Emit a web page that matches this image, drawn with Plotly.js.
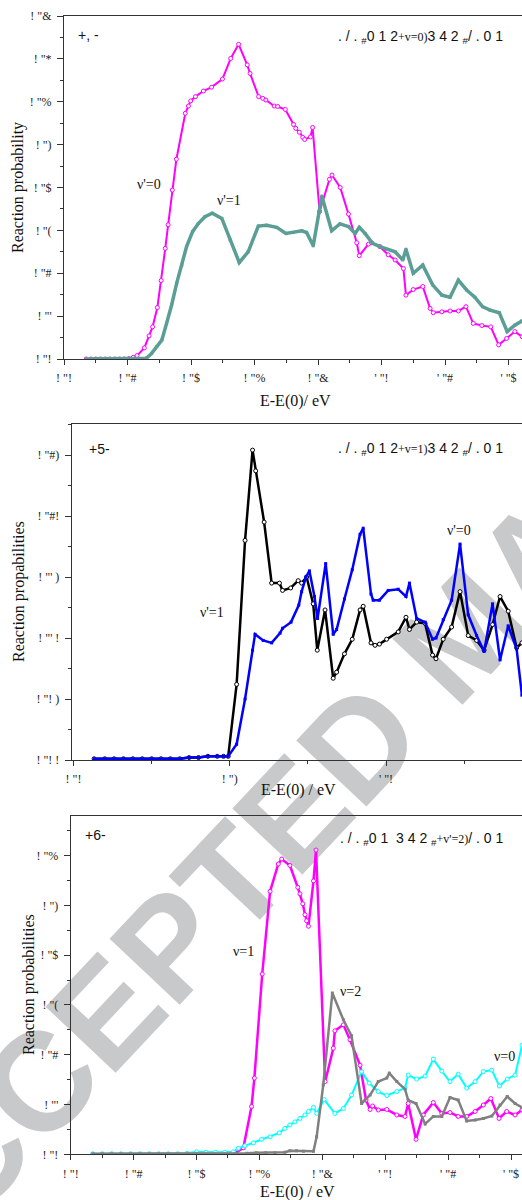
<!DOCTYPE html>
<html>
<head>
<meta charset="utf-8">
<script src="https://cdn.plot.ly/plotly-3.0.1.min.js"></script>
<style>html,body{margin:0;padding:0;background:#fff;}#plot{width:522px;height:1200px;}</style>
</head>
<body>
<div id="plot"></div>
<script>
// ---------- Panel 1 data ----------
const p1_v0_x = [0.07,0.085,0.10,0.115,0.13,0.145,0.16,0.175,0.19,0.205,0.218,0.23,0.253,0.268,0.279,0.294,0.306,0.319,0.328,0.341,0.354,0.382,0.392,0.399,0.414,0.439,0.465,0.499,0.525,0.550,0.577,0.586,0.613,0.626,0.636,0.662,0.673,0.697,0.723,0.730,0.741,0.752,0.758,0.776,0.783,0.805,0.836,0.844,0.870,0.896,0.922,0.930,0.959,0.969,0.995,1.021,1.043,1.069,1.077,1.100,1.130,1.153,1.163,1.190,1.216,1.242,1.266,1.289,1.316,1.344,1.369,1.394,1.420,1.443];
const p1_v0_y = [0,0,0,0,0,0,0,0,0,0.001,0.004,0.008,0.026,0.054,0.075,0.12,0.183,0.258,0.313,0.394,0.466,0.573,0.59,0.602,0.612,0.625,0.634,0.653,0.701,0.734,0.686,0.666,0.612,0.608,0.604,0.59,0.589,0.582,0.547,0.538,0.529,0.517,0.512,0.518,0.54,0.344,0.419,0.429,0.40,0.338,0.271,0.241,0.268,0.271,0.262,0.243,0.231,0.211,0.149,0.162,0.169,0.118,0.108,0.11,0.112,0.112,0.122,0.083,0.078,0.075,0.033,0.048,0.064,0.052];
const p1_v1_x = [0.07,0.09,0.11,0.13,0.15,0.17,0.19,0.21,0.23,0.245,0.26,0.276,0.292,0.308,0.323,0.339,0.355,0.371,0.386,0.405,0.423,0.444,0.467,0.497,0.523,0.552,0.58,0.612,0.638,0.67,0.699,0.722,0.749,0.764,0.785,0.812,0.843,0.869,0.896,0.917,0.93,0.948,0.972,0.995,1.016,1.043,1.067,1.077,1.1,1.13,1.161,1.19,1.216,1.242,1.268,1.294,1.318,1.342,1.371,1.396,1.42,1.443];
const p1_v1_y = [0,0,0,0,0,0,0,0,0,0,0.002,0.013,0.029,0.044,0.083,0.126,0.177,0.219,0.262,0.297,0.316,0.332,0.34,0.328,0.278,0.225,0.25,0.31,0.312,0.307,0.293,0.295,0.299,0.295,0.264,0.38,0.299,0.315,0.309,0.293,0.307,0.293,0.27,0.262,0.256,0.25,0.231,0.256,0.2,0.219,0.173,0.149,0.144,0.184,0.161,0.144,0.122,0.114,0.108,0.064,0.079,0.089];
const p1_xtickvals = [0,0.2,0.4,0.6,0.8,1.0,1.2,1.4];
const p1_xticktext = ['! "!','! "#','! "$','! "%','! "&','\' "!','\' "#','\' "$'];
const p1_ytickvals = [0,0.1,0.2,0.3,0.4,0.5,0.6,0.7,0.8];
const p1_yticktext = ['! "!','! "\'','! "#','! "(','! "$','! ")','! "%','! "*','! "&'];

// ---------- Panel 2 data ----------
const p2_v1_x = [0.066,0.1,0.13,0.16,0.19,0.22,0.25,0.28,0.31,0.34,0.37,0.40,0.43,0.46,0.48,0.495,0.522,0.549,0.573,0.583,0.61,0.634,0.659,0.669,0.695,0.719,0.730,0.746,0.767,0.78,0.805,0.831,0.842,0.867,0.892,0.917,0.927,0.952,0.965,0.979,1.002,1.039,1.064,1.075,1.098,1.125,1.149,1.16,1.183,1.21,1.237,1.263,1.29,1.314,1.341,1.365,1.391,1.418,1.435];
const p2_v1_y = [0.001,0.001,0.001,0.001,0.001,0.001,0.001,0.001,0.001,0.001,0.002,0.002,0.003,0.003,0.003,0.003,0.062,0.18,0.254,0.237,0.195,0.145,0.145,0.139,0.141,0.147,0.145,0.150,0.128,0.09,0.123,0.067,0.072,0.087,0.099,0.123,0.126,0.096,0.094,0.095,0.099,0.105,0.117,0.107,0.113,0.112,0.086,0.083,0.099,0.109,0.138,0.102,0.098,0.09,0.111,0.134,0.122,0.092,0.096];
const p2_v0_x = [0.066,0.1,0.13,0.16,0.19,0.22,0.25,0.28,0.31,0.34,0.37,0.40,0.43,0.46,0.48,0.495,0.522,0.549,0.573,0.581,0.607,0.634,0.661,0.669,0.696,0.721,0.73,0.744,0.755,0.771,0.781,0.807,0.831,0.842,0.867,0.892,0.917,0.927,0.952,0.959,0.979,1.007,1.039,1.064,1.075,1.098,1.125,1.149,1.16,1.183,1.21,1.237,1.263,1.29,1.314,1.341,1.365,1.391,1.418,1.435];
const p2_v0_y = [0.001,0.001,0.001,0.001,0.001,0.001,0.001,0.001,0.001,0.001,0.002,0.002,0.003,0.003,0.003,0.003,0.013,0.05,0.09,0.103,0.098,0.096,0.104,0.108,0.113,0.127,0.138,0.15,0.155,0.134,0.116,0.161,0.103,0.107,0.132,0.156,0.185,0.19,0.136,0.131,0.131,0.139,0.14,0.134,0.145,0.116,0.113,0.099,0.1,0.115,0.131,0.177,0.119,0.102,0.089,0.128,0.082,0.11,0.091,0.053];
const p2_xtickvals = [0,0.5,1.0];
const p2_xticktext = ['! "!','! ")','\' "!'];
const p2_ytickvals = [0,0.05,0.10,0.15,0.20,0.25];
const p2_yticktext = ['! "! !','! "! )','! "\' !','! "\' )','! "#!','! "#)'];

// ---------- Panel 3 data ----------
const p3_v1_x = [0.07,0.10,0.13,0.16,0.19,0.22,0.25,0.28,0.31,0.34,0.37,0.40,0.43,0.46,0.49,0.52,0.549,0.575,0.584,0.609,0.634,0.66,0.671,0.697,0.722,0.729,0.738,0.745,0.75,0.756,0.772,0.78,0.809,0.835,0.84,0.867,0.888,0.92,0.939,0.952,0.96,0.978,1.005,1.037,1.063,1.073,1.098,1.121,1.153,1.18,1.206,1.232,1.259,1.286,1.312,1.336,1.362,1.386,1.413,1.435];
const p3_v1_y = [0,0,0,0,0,0,0,0,0,0,0,0,0,0,0,0.001,0.013,0.096,0.153,0.362,0.528,0.583,0.593,0.58,0.536,0.523,0.503,0.481,0.469,0.458,0.549,0.611,0.146,0.213,0.248,0.26,0.23,0.179,0.109,0.09,0.097,0.089,0.09,0.079,0.076,0.102,0.03,0.079,0.104,0.082,0.084,0.076,0.076,0.086,0.099,0.112,0.072,0.086,0.079,0.089];
const p3_v2_x = [0.07,0.10,0.13,0.16,0.19,0.22,0.25,0.28,0.31,0.34,0.37,0.40,0.43,0.46,0.49,0.52,0.56,0.59,0.62,0.65,0.681,0.697,0.718,0.74,0.772,0.782,0.803,0.832,0.867,0.893,0.925,0.952,0.978,1.005,1.013,1.037,1.063,1.073,1.098,1.127,1.153,1.18,1.206,1.232,1.259,1.286,1.312,1.339,1.365,1.388,1.413,1.435];
const p3_v2_y = [0.001,0.001,0.001,0.001,0.001,0.001,0.001,0.001,0.001,0.001,0.001,0.001,0.001,0.001,0.001,0.001,0.002,0.003,0.003,0.003,0.004,0.007,0.007,0.006,0.006,0.035,0.139,0.324,0.27,0.238,0.102,0.119,0.146,0.153,0.163,0.146,0.131,0.109,0.102,0.061,0.076,0.076,0.114,0.109,0.067,0.069,0.072,0.077,0.099,0.116,0.102,0.094];
const p3_v0_x = [0.07,0.10,0.13,0.16,0.19,0.22,0.25,0.28,0.31,0.34,0.37,0.40,0.43,0.46,0.49,0.517,0.533,0.554,0.581,0.607,0.634,0.663,0.681,0.697,0.713,0.729,0.745,0.756,0.772,0.782,0.806,0.84,0.867,0.893,0.925,0.949,0.978,1.005,1.037,1.063,1.073,1.1,1.127,1.153,1.18,1.206,1.232,1.259,1.286,1.312,1.339,1.363,1.388,1.413,1.435];
const p3_v0_y = [0.001,0.001,0.001,0.001,0.001,0.001,0.001,0.001,0.001,0.001,0.002,0.005,0.004,0.004,0.004,0.005,0.012,0.017,0.023,0.03,0.035,0.043,0.052,0.059,0.065,0.072,0.079,0.086,0.094,0.082,0.11,0.082,0.092,0.119,0.166,0.143,0.126,0.118,0.126,0.133,0.159,0.151,0.157,0.191,0.167,0.146,0.161,0.133,0.146,0.166,0.169,0.137,0.151,0.159,0.219];
const p3_xtickvals = [0,0.2,0.4,0.6,0.8,1.0,1.2,1.4];
const p3_xticktext = ['! "!','! "#','! "$','! "%','! "&','\' "!','\' "#','\' "$'];
const p3_ytickvals = [0,0.1,0.2,0.3,0.4,0.5,0.6];
const p3_yticktext = ['! "!','! "\'','! "#','! "(','! "$','! ")','! "%'];

const watermarkText = 'ACCEPTED MANUSCRIPT';

// ---------- helpers ----------
const W = 522, H = 1200;
const px = v => v / W;
const py = v => 1 - v / H;
const SERIF = 'Liberation Serif';
const SANS = 'Liberation Sans';
const AX = '#333';

function openTrace(x, y, color, lw, xa, ya, name) {
  return {x, y, xaxis: xa, yaxis: ya, name, type: 'scatter', mode: 'lines+markers',
    line: {color, width: lw}, marker: {symbol: 'circle', size: 4, color: 'white', line: {color, width: 1}}};
}
function fillTrace(x, y, color, lw, xa, ya, name) {
  return {x, y, xaxis: xa, yaxis: ya, name, type: 'scatter', mode: 'lines+markers',
    line: {color, width: lw}, marker: {symbol: 'square', size: 3, color}};
}

const data = [
  openTrace(p1_v0_x, p1_v0_y, '#ff00ff', 2, 'x', 'y', "v'=0"),
  fillTrace(p1_v1_x, p1_v1_y, '#5b9e95', 3.5, 'x', 'y', "v'=1"),
  openTrace(p2_v1_x, p2_v1_y, '#000000', 2.5, 'x2', 'y2', "v'=1"),
  fillTrace(p2_v0_x, p2_v0_y, '#0000ff', 2.5, 'x2', 'y2', "v'=0"),
  openTrace(p3_v1_x, p3_v1_y, '#ff00ff', 2.5, 'x3', 'y3', 'v=1'),
  openTrace(p3_v0_x, p3_v0_y, '#00ffff', 2, 'x3', 'y3', 'v=0'),
  fillTrace(p3_v2_x, p3_v2_y, '#808080', 2.5, 'x3', 'y3', 'v=2')
];

function xax(domain, range, tv, tt, minorDtick, anchor) {
  return {domain, range, anchor, tickmode: 'array', tickvals: tv, ticktext: tt,
    showline: true, mirror: true, linecolor: AX, linewidth: 1,
    ticks: 'outside', ticklen: 5, tickwidth: 1, tickcolor: AX,
    minor: {dtick: minorDtick, tick0: 0, ticks: 'outside', ticklen: 3, tickwidth: 1, tickcolor: AX},
    showgrid: false, zeroline: false, ticklabelstandoff: 3,
    tickfont: {family: SERIF, size: 12, color: '#222'}, fixedrange: true};
}
function yax(domain, range, tv, tt, minorDtick, anchor) {
  return {domain, range, anchor, tickmode: 'array', tickvals: tv, ticktext: tt,
    showline: true, mirror: false, linecolor: AX, linewidth: 1,
    ticks: 'outside', ticklen: 6, tickwidth: 1, tickcolor: AX,
    minor: {dtick: minorDtick, tick0: 0, ticks: 'outside', ticklen: 3, tickwidth: 1, tickcolor: AX},
    showgrid: false, zeroline: false, ticklabelstandoff: 3,
    tickfont: {family: SERIF, size: 12, color: '#222'}, fixedrange: true};
}

function txt(text, x, y, size, family, extra) {
  return Object.assign({text, x: px(x), y: py(y), xref: 'paper', yref: 'paper', showarrow: false,
    xanchor: 'center', yanchor: 'middle', font: {family, size, color: '#111'}}, extra || {});
}

const sv = s => '<span style="font-family:Liberation Serif;font-size:12px">' + s + '</span>';

const annotations = [
  // panel 1
  txt('+, -', 88, 35, 14, SANS),
  txt('. / . <sub>#</sub>0 1 2' + sv('+v=0)') + '3 4 2 <sub>#</sub>/ . 0 1', 505, 37, 14, SANS, {xanchor: 'right'}),
  txt("ν'=0", 149, 184, 14, SERIF),
  txt("ν'=1", 229, 201, 14, SERIF),
  txt('E-E(0)/ eV', 295, 401, 16, SERIF),
  txt('Reaction probability', 18, 188, 16, SERIF, {textangle: -90}),
  // panel 2
  txt('+5-', 99, 449, 14, SANS),
  txt('. / . <sub>#</sub>0 1 2' + sv('+v=1)') + '3 4 2 <sub>#</sub>/ . 0 1', 505, 449, 14, SANS, {xanchor: 'right'}),
  txt("ν'=0", 459, 530, 14, SERIF),
  txt("ν'=1", 212, 612, 14, SERIF),
  txt('E-E(0) / eV', 298, 790, 16, SERIF),
  txt('Reaction propabilities', 19, 592, 16, SERIF, {textangle: -90}),
  // panel 3
  txt('+6-', 95, 835, 14, SANS),
  txt('. / . <sub>#</sub>0 1  3 4 2 <sub>#</sub>' + sv("+v'=2)") + '/ . 0 1', 505, 839, 14, SANS, {xanchor: 'right'}),
  txt('ν=1', 243, 951, 14, SERIF),
  txt('ν=2', 350, 991, 14, SERIF),
  txt('ν=0', 504, 1056, 14, SERIF),
  txt('E-E(0) / eV', 297, 1192, 16, SERIF),
  txt('Reaction probabilities', 29, 985, 16, SERIF, {textangle: -90})
];

// watermark as a shape label drawn below the traces
const wmX = 454, wmY = 624;
const shapes = [{
  type: 'rect', xref: 'paper', yref: 'paper', layer: 'below',
  x0: px(wmX - 40), x1: px(wmX + 40), y0: py(wmY + 40), y1: py(wmY - 40),
  line: {width: 0}, fillcolor: 'rgba(0,0,0,0)',
  label: {text: watermarkText, textangle: -46.7, textposition: 'middle center',
    font: {family: 'Liberation Sans', size: 140, color: '#c8c9ca', weight: 'bold'}}
}];

const layout = {
  width: W, height: H, margin: {l: 0, r: 0, t: 0, b: 0},
  paper_bgcolor: '#ffffff', plot_bgcolor: 'rgba(0,0,0,0)', showlegend: false,
  font: {family: SERIF, color: '#111'},
  xaxis: xax([64 / W, 1], [0, 458 / 317.5], p1_xtickvals, p1_xticktext, 0.1, 'y'),
  yaxis: yax([py(359), py(16)], [0, 0.8], p1_ytickvals, p1_yticktext, 0.05, 'x'),
  xaxis2: xax([71.7 / W, 1], [-1.8 / 312.5, (522 - 73.5) / 312.5], p2_xtickvals, p2_xticktext, 0.25, 'y2'),
  yaxis2: yax([py(760), py(424.3)], [0, (760 - 424.3) / 1220], p2_ytickvals, p2_yticktext, 0.025, 'x2'),
  xaxis3: xax([70.7 / W, 1], [0, (522 - 70.7) / 314.5], p3_xtickvals, p3_xticktext, 0.1, 'y3'),
  yaxis3: yax([py(1154.3), py(816)], [0, (1154.3 - 816) / 498], p3_ytickvals, p3_yticktext, 0.05, 'x3'),
  shapes,
  annotations
};

Plotly.newPlot('plot', data, layout, {staticPlot: true, displayModeBar: false});
</script>
</body>
</html>
